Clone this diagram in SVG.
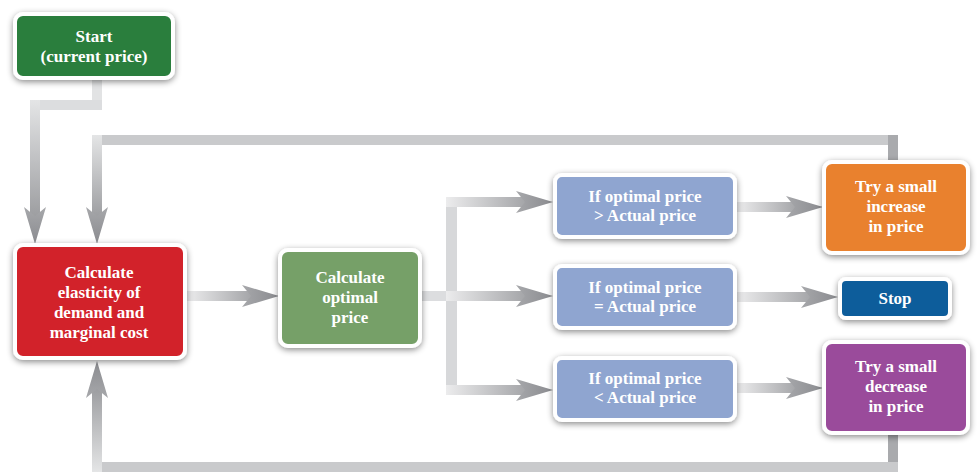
<svg xmlns="http://www.w3.org/2000/svg" width="977" height="476" viewBox="0 0 977 476">
<defs>
<filter id="sh" x="-20%" y="-20%" width="140%" height="150%">
<feDropShadow dx="0" dy="2" stdDeviation="3" flood-color="#000" flood-opacity="0.45"/>
</filter>
<linearGradient id="gH" x1="0" y1="0" x2="1" y2="0"><stop offset="0" stop-color="#ececed"/><stop offset="1" stop-color="#a4a5a8"/></linearGradient>
<linearGradient id="gV" x1="0" y1="0" x2="0" y2="1"><stop offset="0" stop-color="#e4e5e6"/><stop offset="1" stop-color="#9c9da0"/></linearGradient>
<linearGradient id="gVup" x1="0" y1="1" x2="0" y2="0"><stop offset="0" stop-color="#e4e5e6"/><stop offset="1" stop-color="#9c9da0"/></linearGradient>
<linearGradient id="gAH" x1="0" y1="0" x2="1" y2="0"><stop offset="0" stop-color="#a7a8ab"/><stop offset="1" stop-color="#8a8b8f"/></linearGradient>
<path id="ah" d="M0,0 L-37,-11 L-28,0 L-37,11 Z" fill="url(#gAH)"/>
</defs>
<style>
.box{stroke:#fff;stroke-width:4;filter:url(#sh)}
.t{font-family:"Liberation Serif","Times New Roman",serif;font-weight:bold;font-size:17px;fill:#fff;text-anchor:middle}
.plain{fill:#c9cacc}
</style>
<rect width="977" height="476" fill="#fff"/>
<g id="connectors">
<rect x="92" y="80" width="10" height="30" fill="#e2e3e4"/>
<rect x="30" y="100" width="72" height="10" fill="#dcdddf"/>
<rect x="30" y="100" width="10" height="118" fill="url(#gV)"/>
<use href="#ah" transform="translate(35,244) rotate(90)"/>
<rect x="92" y="135" width="806" height="10" class="plain"/>
<rect x="888" y="135" width="10" height="27" fill="#a9aaad"/>
<rect x="92" y="135" width="10" height="83" fill="url(#gV)"/>
<use href="#ah" transform="translate(97,244) rotate(90)"/>
<rect x="888" y="435" width="10" height="37" fill="#a9aaad"/>
<rect x="92" y="462" width="806" height="10" class="plain"/>
<rect x="92" y="388" width="10" height="84" fill="url(#gVup)"/>
<use href="#ah" transform="translate(97,361) rotate(-90)"/>
<rect x="187" y="291" width="65" height="10" fill="url(#gH)"/>
<use href="#ah" transform="translate(279,296)"/>
<rect x="421" y="291" width="36" height="10" fill="#dcdddf"/>
<rect x="446" y="197" width="11" height="198" fill="#d7d8da"/>
<rect x="446" y="197" width="80" height="10" fill="url(#gH)"/>
<use href="#ah" transform="translate(553,202)"/>
<rect x="446" y="291" width="80" height="10" fill="url(#gH)"/>
<use href="#ah" transform="translate(553,296)"/>
<rect x="446" y="385" width="80" height="10" fill="url(#gH)"/>
<use href="#ah" transform="translate(553,390)"/>
<rect x="737" y="202" width="60" height="10" fill="url(#gH)"/>
<use href="#ah" transform="translate(823,207)"/>
<rect x="737" y="292" width="75" height="10" fill="url(#gH)"/>
<use href="#ah" transform="translate(838,297)"/>
<rect x="737" y="383" width="60" height="10" fill="url(#gH)"/>
<use href="#ah" transform="translate(823,388)"/>
</g>
<g id="start">
<rect class="box" x="15" y="14" width="158" height="64" rx="8" fill="#2b7e3e"/>
<text class="t" x="94" y="42">Start</text>
<text class="t" x="94" y="62">(current price)</text>
</g>
<g id="calc-elasticity">
<rect class="box" x="15" y="245" width="170" height="113" rx="8" fill="#d2232b"/>
<text class="t" x="99" y="278">Calculate</text>
<text class="t" x="99" y="298">elasticity of</text>
<text class="t" x="99" y="318">demand and</text>
<text class="t" x="99" y="338">marginal cost</text>
</g>
<g id="calc-optimal">
<rect class="box" x="280" y="250" width="140" height="96" rx="8" fill="#76a067"/>
<text class="t" x="350" y="283">Calculate</text>
<text class="t" x="350" y="303">optimal</text>
<text class="t" x="350" y="323">price</text>
</g>
<g id="if-greater">
<rect class="box" x="555" y="175" width="180" height="62" rx="7" fill="#8fa5d0"/>
<text class="t" x="645" y="202">If optimal price</text>
<text class="t" x="645" y="221">&gt; Actual price</text>
</g>
<g id="if-equal">
<rect class="box" x="555" y="266" width="180" height="62" rx="7" fill="#8fa5d0"/>
<text class="t" x="645" y="293">If optimal price</text>
<text class="t" x="645" y="312">= Actual price</text>
</g>
<g id="if-less">
<rect class="box" x="555" y="358" width="180" height="62" rx="7" fill="#8fa5d0"/>
<text class="t" x="645" y="384">If optimal price</text>
<text class="t" x="645" y="403">&lt; Actual price</text>
</g>
<g id="increase">
<rect class="box" x="824" y="162" width="144" height="91" rx="8" fill="#e9812f"/>
<text class="t" x="896" y="192">Try a small</text>
<text class="t" x="896" y="212">increase</text>
<text class="t" x="896" y="232">in price</text>
</g>
<g id="stop">
<rect class="box" x="840" y="279" width="110" height="39" rx="6" fill="#0f5d9b"/>
<text class="t" x="895" y="304">Stop</text>
</g>
<g id="decrease">
<rect class="box" x="824" y="342" width="144" height="91" rx="8" fill="#9a4b9b"/>
<text class="t" x="896" y="372">Try a small</text>
<text class="t" x="896" y="392">decrease</text>
<text class="t" x="896" y="412">in price</text>
</g>
</svg>
